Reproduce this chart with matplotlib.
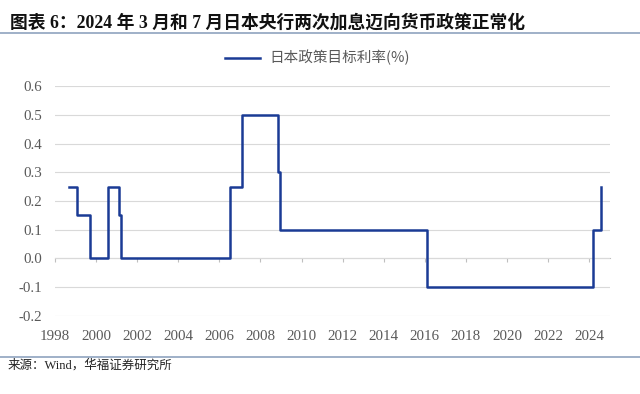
import matplotlib
matplotlib.use('Agg')
import matplotlib.pyplot as plt
from matplotlib.lines import Line2D

# 日本政策目标利率 (变动时点, 利率%)
dates = [1998.67, 1999.08, 1999.70, 2000.60, 2001.12, 2001.20, 2006.50,
         2007.12, 2008.83, 2008.95, 2016.08, 2024.20, 2024.55]
rates = [0.25, 0.15, 0.0, 0.25, 0.15, 0.0, 0.25,
         0.5, 0.3, 0.1, -0.1, 0.1, 0.25]
x_ticks = list(range(1998, 2025, 2))
y_ticks = [0.6, 0.5, 0.4, 0.3, 0.2, 0.1, 0.0, -0.1, -0.2]

title = '图表 6：2024 年 3 月和 7 月日本央行两次加息迈向货币政策正常化'
legend_label = '日本政策目标利率(%)'
source = '来源：Wind，华福证券研究所'

serif_cjk = ['Liberation Serif', 'Noto Sans CJK SC']
gray = '#595959'
blue = '#1a3b95'

fig = plt.figure(figsize=(6.4, 3.94), dpi=100)
ax = fig.add_axes([0.0859, 0.198, 0.867, 0.5837])

ax.step(dates, rates, where='post', color=blue, lw=1.8, label=legend_label)

ax.set_xlim(1998, 2025)
ax.set_ylim(-0.2, 0.6)
ax.set_yticks(y_ticks)
ax.set_yticklabels([f'{v:.1f}'.replace('-0.0', '0.0') for v in y_ticks],
                   family='Liberation Serif', color=gray, fontsize=10.8)
ax.set_xticks(x_ticks)
ax.set_xticklabels([str(t) for t in x_ticks], family='Liberation Serif',
                   color=gray, fontsize=10.8)
ax.tick_params(axis='y', length=0, pad=9)
ax.tick_params(axis='x', length=0, pad=10)
ax.grid(axis='y', color='#d9d9d9', lw=0.8)
ax.set_axisbelow(True)
for s in ax.spines.values():
    s.set_visible(False)

# 零轴 + 刻度
zero_axis = ax.secondary_xaxis(0.25)
zero_axis.set_xticks(x_ticks)
zero_axis.set_xticklabels([])
zero_axis.tick_params(length=3, color='#bfbfbf', width=0.8)
zero_axis.spines['bottom'].set_color('#bfbfbf')
zero_axis.spines['bottom'].set_linewidth(0.8)

ax.legend(loc='center', bbox_to_anchor=(0.496, 0.853), bbox_transform=fig.transFigure,
          frameon=False, handlelength=2.4, handletextpad=0.6,
          prop={'family': ['Noto Sans CJK SC'], 'size': 10.5}, labelcolor=gray)

fig.text(0.015, 0.943, title, family=serif_cjk, weight='bold', fontsize=12.8,
         va='center', ha='left', color='#111111')
fig.add_artist(Line2D([0, 1], [0.916, 0.916], transform=fig.transFigure,
                      color='#8fa3bf', lw=1.2))
fig.add_artist(Line2D([0, 1], [0.094, 0.094], transform=fig.transFigure,
                      color='#8fa3bf', lw=1.2))
fig.text(0.012, 0.072, source, family=serif_cjk, fontsize=9, va='center',
         ha='left', color='#222222')

fig.savefig('out.png', dpi=100)
